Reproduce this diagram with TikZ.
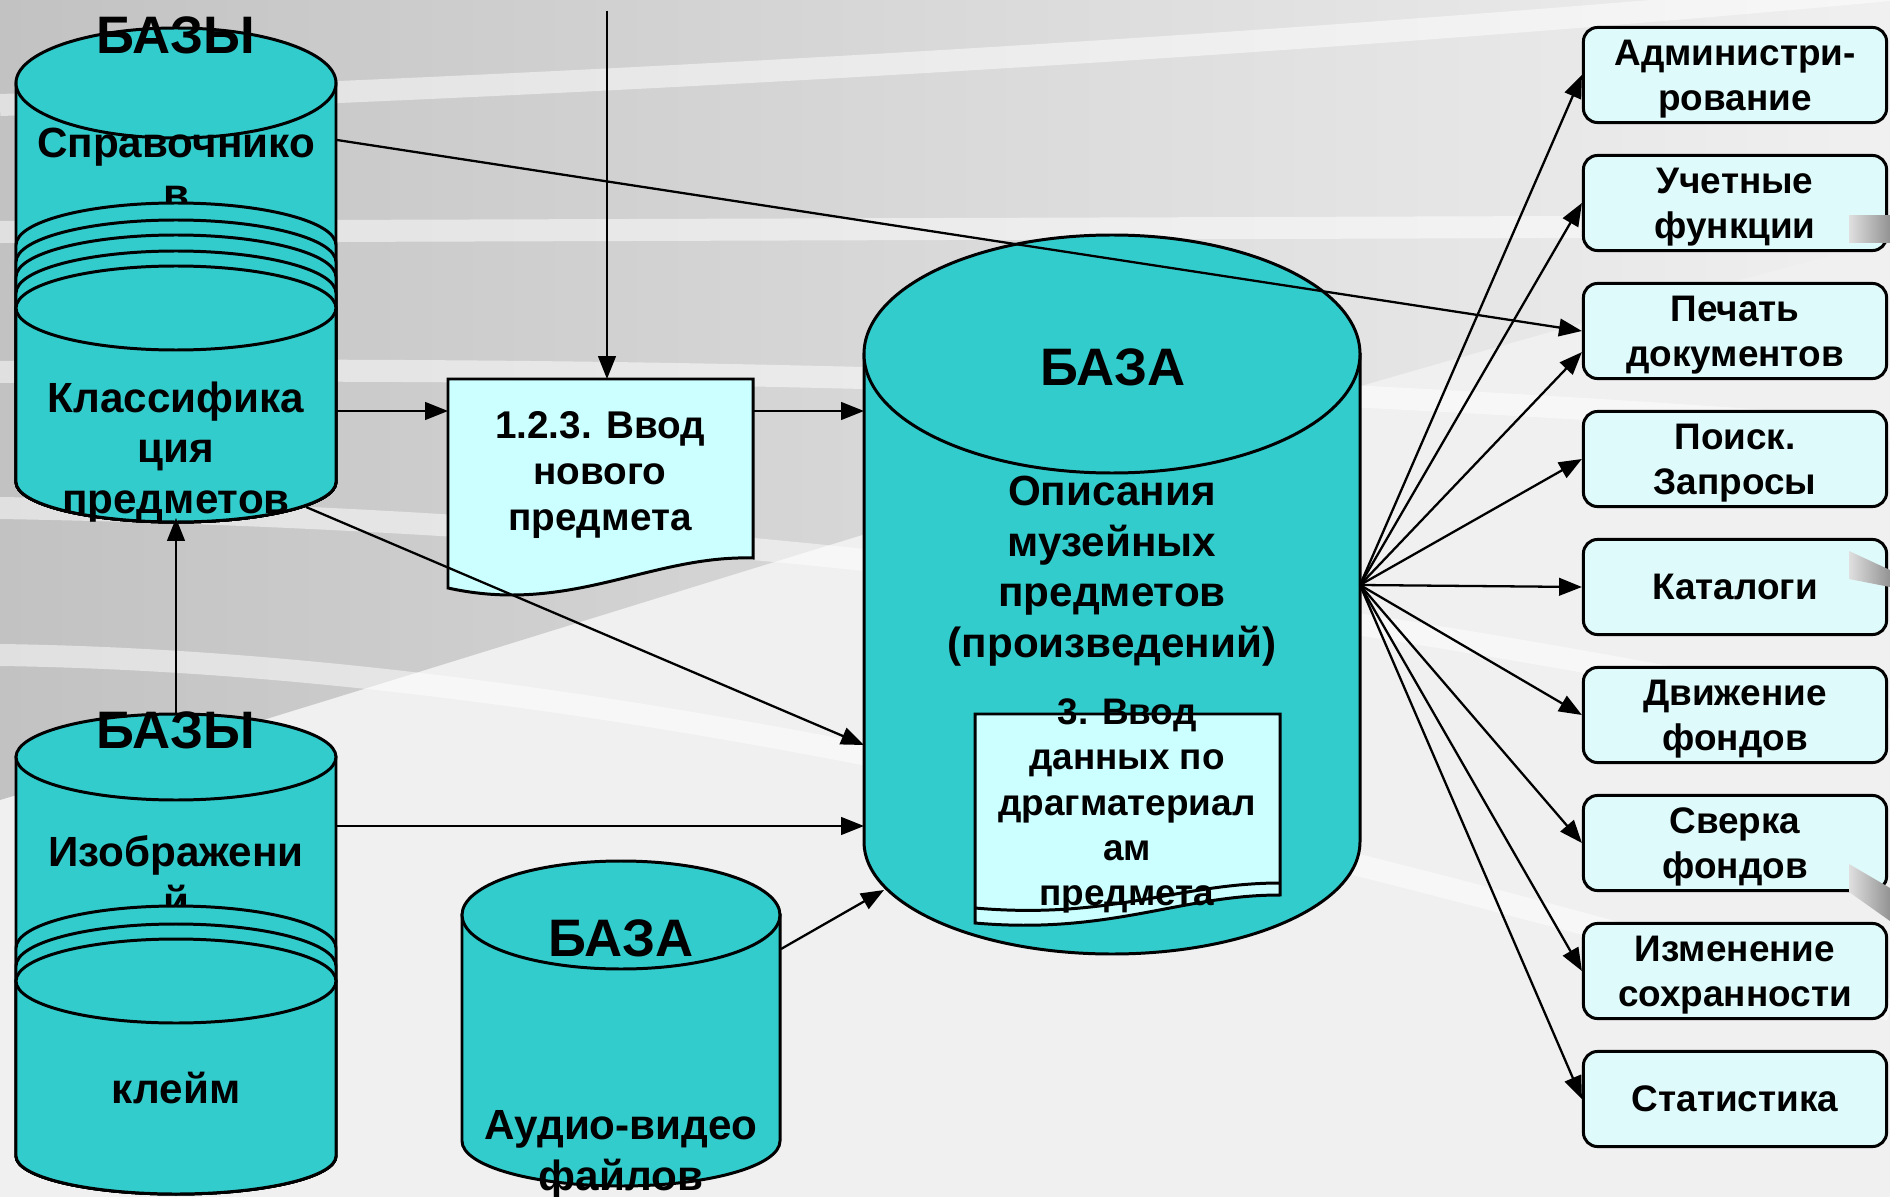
\documentclass[tikz,border=0pt]{standalone}
\usepackage{fontspec}
\setmainfont{Liberation Sans}
\usetikzlibrary{arrows.meta}

\definecolor{cylfill}{HTML}{33CCCC}
\definecolor{docfill}{HTML}{CCFFFF}
\definecolor{boxfill}{HTML}{DFFAFA}
\definecolor{bgdark}{HTML}{C2C2C2}
\definecolor{bglight}{HTML}{F0F0F0}

\tikzset{
  cyl/.style={fill=cylfill,draw=black,line width=0.85pt},
  doc/.style={fill=docfill,draw=black,line width=0.85pt},
  func/.style={draw=black,fill=boxfill,line width=0.85pt,rounded corners=4pt,
    minimum width=3.03cm,minimum height=0.95cm,align=center,inner sep=0pt,
    font=\bfseries\fontsize{10.5}{12.8}\selectfont},
  basetitle/.style={font=\bfseries\fontsize{15}{17}\selectfont,anchor=base,inner sep=0pt},
  txt/.style={font=\bfseries\fontsize{12}{14.4}\selectfont,align=center,inner sep=0pt},
  band/.style={white,opacity=0.5,line width=0.22cm},
  link/.style={line width=0.65pt,->},
}

\begin{document}
\begin{tikzpicture}[x=0.01cm,y=-0.01cm,>={Triangle[length=6.5pt,width=5pt]}]
    \useasboundingbox (0,0) rectangle (1890,1197);
    % background of the slide
    \fill[bglight] (0,0) rectangle (1890,1197);
    \shade[left color=bgdark,right color=bglight] (0,0) -- (1890,0) -- (1890,240) .. controls (1200,420) and (600,620) .. (0,800) -- cycle;
    \draw[band] (0,105) .. controls (600,85) and (1300,45) .. (1890,-10);
    \draw[band] (0,232) -- (1890,226);
    \draw[band] (0,372) .. controls (700,365) and (1300,385) .. (1890,430);
    \draw[band] (0,508) .. controls (700,520) and (1300,600) .. (1890,720);
    \draw[band] (0,655) .. controls (500,662) and (1100,780) .. (1890,1010);

    % reference tables and classification
    \filldraw[cyl] (16,83) -- (16,482) arc[start angle=180,end angle=0,x radius=160,y radius=40] -- (336,83) -- cycle;
    \filldraw[cyl] (176,83) ellipse[x radius=160,y radius=55];
    \node[txt] (sprav) at (176,168) {Справочнико\\в};
    \filldraw[cyl] (16,245) arc[start angle=180,end angle=360,x radius=160,y radius=42] -- (336,482) arc[start angle=0,end angle=180,x radius=160,y radius=40] -- cycle;
    \filldraw[cyl] (16,262) arc[start angle=180,end angle=360,x radius=160,y radius=42] -- (336,482) arc[start angle=0,end angle=180,x radius=160,y radius=40] -- cycle;
    \filldraw[cyl] (16,277) arc[start angle=180,end angle=360,x radius=160,y radius=42] -- (336,482) arc[start angle=0,end angle=180,x radius=160,y radius=40] -- cycle;
    \filldraw[cyl] (16,293) arc[start angle=180,end angle=360,x radius=160,y radius=42] -- (336,482) arc[start angle=0,end angle=180,x radius=160,y radius=40] -- cycle;
    \filldraw[cyl] (16,308) -- (16,482) arc[start angle=180,end angle=0,x radius=160,y radius=40] -- (336,308) -- cycle;
    \filldraw[cyl] (176,308) ellipse[x radius=160,y radius=42];
    \node[txt] (klass) at (176,452) {Классифика\\ция\\предметов};
    \node[basetitle] (bazy1) at (176,54) {БАЗЫ};

    % images and marks
    \filldraw[cyl] (16,757) -- (16,1156) arc[start angle=180,end angle=0,x radius=160,y radius=38] -- (336,757) -- cycle;
    \filldraw[cyl] (176,757) ellipse[x radius=160,y radius=43];
    \node[txt] (izobr) at (176,876) {Изображени\\й};
    \filldraw[cyl] (16,948) arc[start angle=180,end angle=360,x radius=160,y radius=42] -- (336,1156) arc[start angle=0,end angle=180,x radius=160,y radius=38] -- cycle;
    \filldraw[cyl] (16,966) arc[start angle=180,end angle=360,x radius=160,y radius=42] -- (336,1156) arc[start angle=0,end angle=180,x radius=160,y radius=38] -- cycle;
    \filldraw[cyl] (16,981) -- (16,1156) arc[start angle=180,end angle=0,x radius=160,y radius=38] -- (336,981) -- cycle;
    \filldraw[cyl] (176,981) ellipse[x radius=160,y radius=42];
    \node[txt,anchor=base] (kleim) at (176,1103) {клейм};
    \node[basetitle] (bazy2) at (176,748) {БАЗЫ};

    % audio and video
    \filldraw[cyl] (462,915) -- (462,1141) arc[start angle=180,end angle=0,x radius=159,y radius=45] -- (780,915) -- cycle;
    \filldraw[cyl] (621,915) ellipse[x radius=159,y radius=54];
    \node[basetitle] (baza2) at (621,956) {БАЗА};
    \node[txt] (audio) at (621,1155) {Аудио-видео\\файлов};

    % main base
    \filldraw[cyl] (864,354) -- (864,842) arc[start angle=180,end angle=0,x radius=248,y radius=112] -- (1360,354) -- cycle;
    \filldraw[cyl] (1112,354) ellipse[x radius=248,y radius=119];
    \node[basetitle] (baza) at (1113,386) {БАЗА};
    \node[txt] (opis) at (1112,571) {Описания\\музейных\\предметов\\(произведений)};
    \filldraw[doc] (975,714) -- (1280,714) -- (1280,895) .. controls (1180,895) and (1110,935) .. (975,923) -- cycle;
    \draw[doc,fill=none] (975,908) .. controls (1110,920) and (1180,883) .. (1280,883);
    \node[txt,font=\bfseries\fontsize{10.5}{12.9}\selectfont] (drag) at (1127,806) {3. Ввод\\данных по\\драгматериал\\ам\\предмета};

    % new item
    \filldraw[doc] (448,379) -- (753,379) -- (753,558) .. controls (650,555) and (570,615) .. (448,588) -- cycle;
    \node[txt,font=\bfseries\fontsize{11}{13.2}\selectfont] (vvod) at (600,475) {1.2.3. Ввод\\нового\\предмета};

    % functions
    \node[func] (adm) at (1735,75) {\rule{0pt}{9.6pt}Администри-\\рование};
    \node[func] (uchet) at (1735,203) {\rule{0pt}{9.6pt}Учетные\\функции};
    \node[func] (pech) at (1735,331) {\rule{0pt}{9.6pt}Печать\\документов};
    \node[func] (poisk) at (1735,459) {\rule{0pt}{9.6pt}Поиск.\\Запросы};
    \node[func] (katal) at (1735,587) {Каталоги};
    \node[func] (dvizh) at (1735,715) {\rule{0pt}{9.6pt}Движение\\фондов};
    \node[func] (sverka) at (1735,843) {\rule{0pt}{9.6pt}Сверка\\фондов};
    \node[func] (izmen) at (1735,971) {\rule{0pt}{9.6pt}Изменение\\сохранности};
    \node[func] (stat) at (1735,1099) {Статистика};
    \shade[left color=gray!25,right color=gray!85] (1849,216) -- (1890,216) -- (1890,243) -- (1849,243) -- cycle;
    \shade[left color=gray!25,right color=gray!85] (1849,551) -- (1890,570) -- (1890,587) -- (1849,579) -- cycle;
    \shade[left color=gray!25,right color=gray!85] (1849,864) -- (1890,888) -- (1890,921) -- (1849,892) -- cycle;

    % connection points
    \coordinate (topin) at (607,11);
    \coordinate (vvodtop) at (607,379);
    \coordinate (klassout) at (337,411);
    \coordinate (vvodin) at (448,411);
    \coordinate (vvodout) at (753,411);
    \coordinate (bazain) at (864,411);
    \coordinate (klassbot) at (306,507);
    \coordinate (bazaleft) at (864,745);
    \coordinate (bazy2top) at (176,714);
    \coordinate (klassin) at (176,518);
    \coordinate (izobrout) at (337,826);
    \coordinate (bazamid) at (864,826);
    \coordinate (audioout) at (781,949);
    \coordinate (bazabot) at (884,890);
    \coordinate (spravout) at (337,140);
    \coordinate (hub) at (1360,585);

    \draw[link] (topin) -- (vvodtop);
    \draw[link] (klassout) -- (vvodin);
    \draw[link] (vvodout) -- (bazain);
    \draw[link] (klassbot) -- (bazaleft);
    \draw[link] (bazy2top) -- (klassin);
    \draw[link] (izobrout) -- (bazamid);
    \draw[link] (audioout) -- (bazabot);
    \draw[link] (spravout) -- (pech.west);
    \draw[link] (hub) -- (adm.west);
    \draw[link] (hub) -- (uchet.west);
    \draw[link] (hub) -- ([yshift=-6pt]pech.west);
    \draw[link] (hub) -- (poisk.west);
    \draw[link] (hub) -- (katal.west);
    \draw[link] (hub) -- (dvizh.west);
    \draw[link] (hub) -- (sverka.west);
    \draw[link] (hub) -- (izmen.west);
    \draw[link] (hub) -- (stat.west);
  \end{tikzpicture}
\end{document}
